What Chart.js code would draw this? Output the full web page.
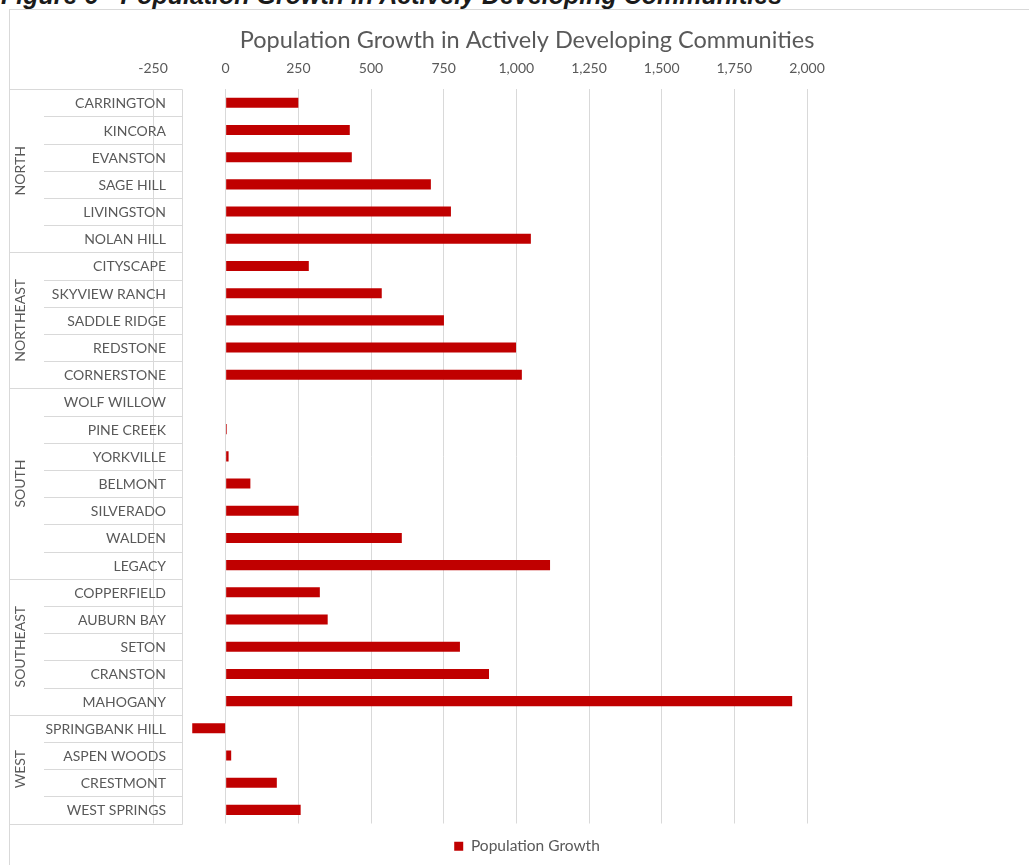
<!DOCTYPE html>
<html>
<head>
<meta charset="utf-8">
<script src="https://cdn.jsdelivr.net/npm/chart.js@4.4.0/dist/chart.umd.min.js"></script>
<style>
  html, body { margin: 0; padding: 0; background: #fff; overflow: hidden; width: 1029px; height: 865px; }
  #frame { position: absolute; left: 9px; top: 9px; width: 1060px; height: 900px; border: 1px solid #d9d9d9; box-sizing: border-box; }
  #caption { position: absolute; left: 1px; top: -17px; font: italic bold 25px "Liberation Sans", Arial, sans-serif; line-height: 25px; color: #1a1a1a; white-space: nowrap; }
  #chart { position: absolute; left: 0; top: 0; }
</style>
</head>
<body>
<div id="caption">Figure 6 - Population Growth in Actively Developing Communities</div>
<div id="frame"></div>
<canvas id="chart" width="1045" height="865"></canvas>
<script>
// communities, top to bottom
const communities = [
  'CARRINGTON', 'KINCORA', 'EVANSTON', 'SAGE HILL', 'LIVINGSTON', 'NOLAN HILL',
  'CITYSCAPE', 'SKYVIEW RANCH', 'SADDLE RIDGE', 'REDSTONE', 'CORNERSTONE',
  'WOLF WILLOW', 'PINE CREEK', 'YORKVILLE', 'BELMONT', 'SILVERADO', 'WALDEN', 'LEGACY',
  'COPPERFIELD', 'AUBURN BAY', 'SETON', 'CRANSTON', 'MAHOGANY',
  'SPRINGBANK HILL', 'ASPEN WOODS', 'CRESTMONT', 'WEST SPRINGS'
];
const growth = [
  250, 427, 434, 706, 775, 1050,
  286, 537, 751, 999, 1019,
  0, 4, 10, 85, 251, 606, 1116,
  324, 351, 806, 906, 1949,
  -115, 19, 176, 258
];
// regions and how many communities each one holds
const regions = ['NORTH', 'NORTHEAST', 'SOUTH', 'SOUTHEAST', 'WEST'];
const regionSizes = [6, 5, 7, 5, 4];

const axisMin = -250;
const axisMax = 2000;
const axisStep = 250;

const gridColor = '#d9d9d9';
const textColor = '#595959';

// the label table on the left: community names, region column and its lines
// (drawn here because the names sit over the -250 gridline, inside the plot)
const regionTable = {
  id: 'regionTable',
  afterDraw(chart) {
    const ctx = chart.ctx;
    const y = chart.scales.y;
    const n = communities.length;
    const step = y.getPixelForValue(1) - y.getPixelForValue(0);
    const edge = i => y.getPixelForValue(i) - step / 2;
    const left = 9.5, mid = 44, right = 182.5;

    ctx.save();
    ctx.strokeStyle = gridColor;
    ctx.lineWidth = 1;
    ctx.beginPath();
    ctx.moveTo(right, Math.round(edge(0)) + 0.5);
    ctx.lineTo(right, Math.round(edge(n)) + 0.5);

    let start = 0;
    const regionStarts = [];
    regionSizes.forEach(s => { regionStarts.push(start); start += s; });
    for (let i = 0; i <= n; i++) {
      const yy = Math.round(edge(i)) + 0.5;
      const isBoundary = i === 0 || i === n || regionStarts.includes(i);
      ctx.moveTo(isBoundary ? left : mid, yy);
      ctx.lineTo(right, yy);
    }
    ctx.stroke();

    ctx.fillStyle = textColor;
    ctx.font = '14px Lato';
    ctx.textBaseline = 'middle';

    ctx.textAlign = 'right';
    communities.forEach((name, i) => {
      ctx.fillText(name, 166, y.getPixelForValue(i) + 1);
    });

    ctx.textAlign = 'center';
    regions.forEach((r, k) => {
      const a = edge(regionStarts[k]);
      const b = edge(regionStarts[k] + regionSizes[k]);
      ctx.save();
      ctx.translate(20, (a + b) / 2);
      ctx.rotate(-Math.PI / 2);
      ctx.fillText(r, 0, 0);
      ctx.restore();
    });
    ctx.restore();
  }
};

new Chart(document.getElementById('chart'), {
  type: 'bar',
  data: {
    labels: communities,
    datasets: [{
      label: 'Population Growth',
      data: growth,
      backgroundColor: '#c00000',
      borderWidth: 0,
      barPercentage: 0.37,
      categoryPercentage: 1
    }]
  },
  options: {
    indexAxis: 'y',
    responsive: false,
    animation: false,
    layout: { padding: { left: 9, right: 0, top: 0, bottom: 1 } },
    plugins: {
      title: {
        display: true,
        text: 'Population Growth in Actively Developing Communities',
        color: textColor,
        font: { family: 'Lato', size: 23.5, weight: 'normal' },
        padding: { top: 26, bottom: 5 }
      },
      legend: {
        position: 'bottom',
        labels: {
          color: textColor,
          font: { family: 'Lato', size: 15.5 },
          boxWidth: 9,
          boxHeight: 9,
          padding: 15
        }
      },
      tooltip: { enabled: false }
    },
    scales: {
      x: {
        position: 'top',
        min: axisMin,
        max: axisMax,
        grid: { color: gridColor, drawTicks: false },
        border: { display: false },
        ticks: {
          stepSize: axisStep,
          color: textColor,
          font: { family: 'Lato', size: 14 },
          padding: 12
        },
        afterFit(scale) { scale.height = 30; }
      },
      y: {
        grid: { display: false, drawTicks: false },
        border: { display: false },
        ticks: { display: false },
        afterFit(scale) { scale.width = 144; }
      },
      // empty space to the right of the plot, as in the original
      spare: {
        type: 'linear',
        position: 'right',
        grid: { display: false, drawTicks: false },
        border: { display: false },
        ticks: { display: false },
        afterFit(scale) { scale.width = 238; }
      }
    }
  },
  plugins: [regionTable]
});
</script>
</body>
</html>
